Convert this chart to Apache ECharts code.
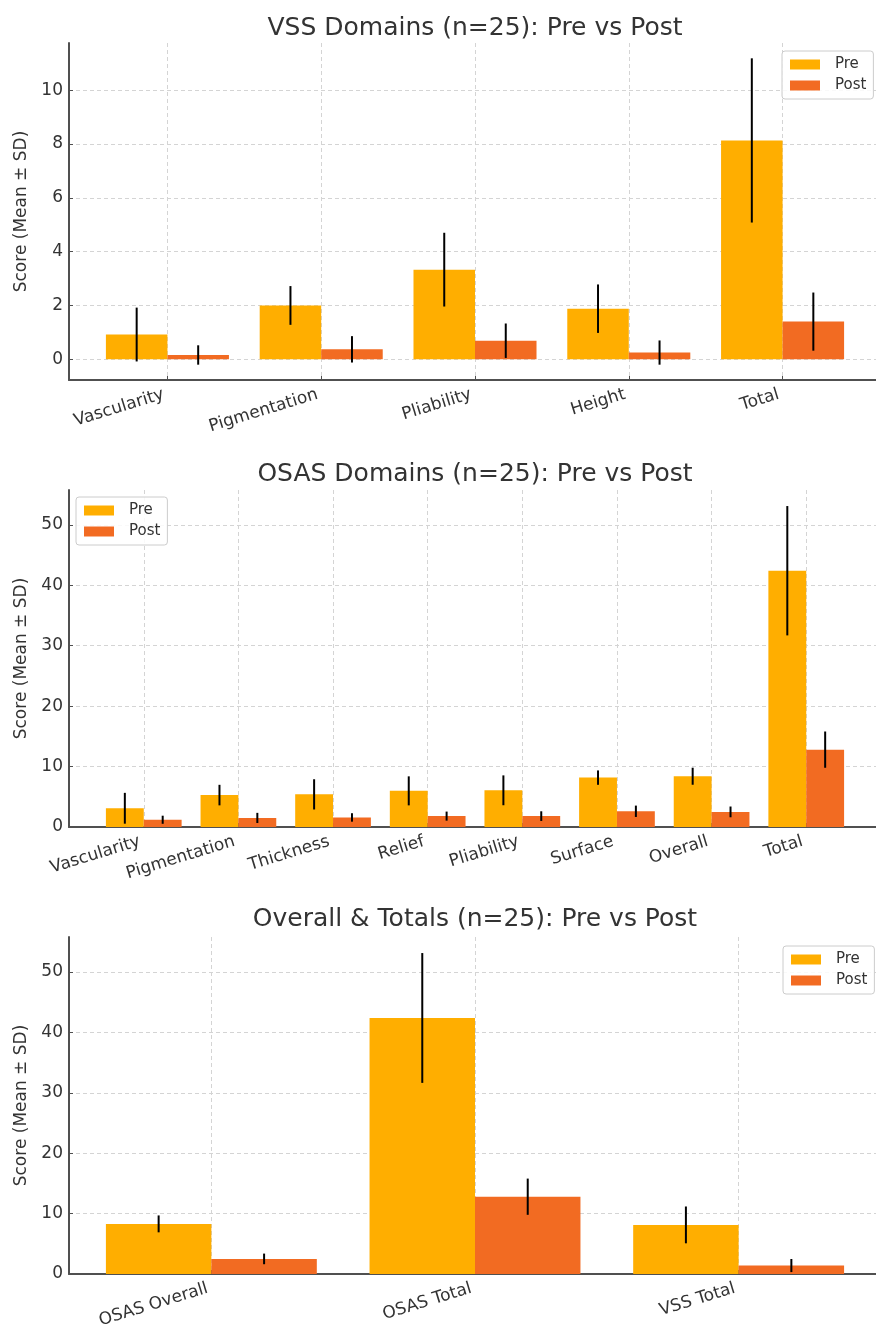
<!DOCTYPE html>
<html><head><meta charset="utf-8">
<script src="https://cdn.jsdelivr.net/npm/echarts@6/dist/echarts.min.js"></script>
<style>html,body{margin:0;padding:0;background:#fff}#c{width:876px;height:1325px}</style>
</head><body><div id="c"></div>
<script>
// ---- data ----
const vssCategories = ['Vascularity', 'Pigmentation', 'Pliability', 'Height', 'Total'];
const vssPreMean  = [0.92, 2.00, 3.33, 1.88, 8.13];
const vssPreSD    = [1.00, 0.72, 1.37, 0.90, 3.05];
const vssPostMean = [0.16, 0.37, 0.69, 0.25, 1.40];
const vssPostSD   = [0.36, 0.49, 0.64, 0.45, 1.08];

const osasCategories = ['Vascularity', 'Pigmentation', 'Thickness', 'Relief', 'Pliability', 'Surface', 'Overall', 'Total'];
const osasPreMean  = [3.10, 5.28, 5.40, 5.98, 6.07, 8.17, 8.40, 42.40];
const osasPreSD    = [2.55, 1.70, 2.50, 2.40, 2.47, 1.19, 1.41, 10.70];
const osasPostMean = [1.20, 1.50, 1.58, 1.80, 1.80, 2.60, 2.50, 12.80];
const osasPostSD   = [0.67, 0.84, 0.70, 0.75, 0.80, 0.94, 0.89, 3.00];

const totalsCategories = ['OSAS Overall', 'OSAS Total', 'VSS Total'];
const totalsPreMean  = [8.30, 42.40, 8.13];
const totalsPreSD    = [1.40, 10.75, 3.05];
const totalsPostMean = [2.50, 12.80, 1.40];
const totalsPostSD   = [0.88, 3.00, 1.08];

const vssTicks = [0, 2, 4, 6, 8, 10];
const osasTicks = [0, 10, 20, 30, 40, 50];
const totalsTicks = [0, 10, 20, 30, 40, 50];

const titles = ['VSS Domains (n=25): Pre vs Post', 'OSAS Domains (n=25): Pre vs Post', 'Overall & Totals (n=25): Pre vs Post'];
const yName = 'Score (Mean \u00b1 SD)';

// ---- style ----
const PRE_COLOR = '#FFAE00';
const POST_COLOR = '#F26B22';
const FONT = 'DejaVu Sans';
const TXT = '#333333';
const AXIS = '#505050';

const panels = [
  {cats: vssCategories, pre: vssPreMean, preSD: vssPreSD, post: vssPostMean, postSD: vssPostSD, ticks: vssTicks, top: 43, titleTop: 11, legend: {left: 782, top: 51}},
  {cats: osasCategories, pre: osasPreMean, preSD: osasPreSD, post: osasPostMean, postSD: osasPostSD, ticks: osasTicks, top: 490, titleTop: 457, legend: {left: 76, top: 497}},
  {cats: totalsCategories, pre: totalsPreMean, preSD: totalsPreSD, post: totalsPostMean, postSD: totalsPostSD, ticks: totalsTicks, top: 937, titleTop: 902, legend: {left: 783, top: 946}}
];

function extent(p) {
  // matplotlib-like autoscale: bars sticky at 0, 5% margins
  let lo = 0, hi = 0;
  for (let i = 0; i < p.cats.length; i++) {
    lo = Math.min(lo, p.pre[i] - p.preSD[i], p.post[i] - p.postSD[i]);
    hi = Math.max(hi, p.pre[i] + p.preSD[i], p.post[i] + p.postSD[i]);
  }
  const r = hi - lo;
  return [lo < 0 ? lo - 0.05 * r : 0, hi + 0.05 * r];
}

const grid = [], xAxis = [], yAxis = [], series = [], title = [], legend = [];
panels.forEach((p, gi) => {
  const n = p.cats.length;
  const xr = (n - 1) + 0.8;
  const ext = extent(p);
  grid.push({left: 69, width: 812, top: p.top, height: 337, containLabel: false, outerBoundsMode: 'none'});
  title.push({text: titles[gi], left: 470, top: p.titleTop, textAlign: 'center',
    textStyle: {fontFamily: FONT, fontSize: 25, fontWeight: 'normal', color: TXT}});
  legend.push({left: p.legend.left, top: p.legend.top, orient: 'vertical', itemWidth: 30, itemHeight: 10, itemGap: 6,
    padding: [6, 7, 6, 8], borderColor: '#cccccc', borderWidth: 1, borderRadius: 3, backgroundColor: 'rgba(255,255,255,0.85)',
    textStyle: {fontFamily: FONT, fontSize: 15, color: TXT, padding: [0, 0, 0, 10]},
    selectedMode: false,
    data: [{name: 'Pre', icon: 'rect', itemStyle: {color: PRE_COLOR}}, {name: 'Post', icon: 'rect', itemStyle: {color: POST_COLOR}}]});
  const idxs = p.cats.map((_, i) => i);
  xAxis.push({type: 'value', gridIndex: gi, min: -0.4 - 0.05 * xr, max: (n - 1) + 0.4 + 0.05 * xr,
    axisLine: {show: true, onZero: false, lineStyle: {color: AXIS, width: 2}},
    axisTick: {show: true, inside: true, customValues: idxs, length: 4, lineStyle: {color: AXIS, width: 1}},
    axisLabel: {customValues: idxs, rotate: 17, fontFamily: FONT, fontSize: 17, color: TXT, margin: 13,
      padding: [0, 4, 0, 0],
      formatter: v => p.cats[Math.round(v)]},
    splitLine: {show: true, lineStyle: {color: '#d4d4d4', width: 1, type: [4, 3]}}});
  yAxis.push({type: 'value', gridIndex: gi, min: ext[0], max: ext[1],
    name: yName, nameLocation: 'middle', nameGap: 38, nameRotate: 90,
    nameTextStyle: {fontFamily: FONT, fontSize: 17, color: TXT},
    axisLine: {show: true, onZero: false, lineStyle: {color: AXIS, width: 2}},
    axisTick: {show: true, inside: true, customValues: p.ticks, length: 4, lineStyle: {color: AXIS, width: 1}},
    axisLabel: {customValues: p.ticks, fontFamily: FONT, fontSize: 17, color: TXT, margin: 6},
    splitLine: {show: true, lineStyle: {color: '#d4d4d4', width: 1, type: [4, 3]}}});
  const mk = (name, color, means, sds, off) => ({
    type: 'custom', name, xAxisIndex: gi, yAxisIndex: gi, itemStyle: {color},
    data: means.map((m, i) => [i, m, sds[i]]),
    encode: {x: 0, y: 1},
    z: 5,
    renderItem(params, api) {
      const x = api.value(0) + off, m = api.value(1), sd = api.value(2);
      const a = api.coord([x - 0.2, m]);
      const b = api.coord([x + 0.2, 0]);
      const e0 = api.coord([x, m + sd]);
      const e1 = api.coord([x, m - sd]);
      return {type: 'group', children: [
        {type: 'rect', shape: {x: a[0], y: a[1], width: b[0] - a[0], height: b[1] - a[1]}, style: {fill: color}},
        {type: 'line', z2: 10, shape: {x1: e0[0], y1: e0[1], x2: e1[0], y2: e1[1]}, style: {stroke: '#000', lineWidth: 2}}
      ]};
    }
  });
  series.push(mk('Pre', PRE_COLOR, p.pre, p.preSD, -0.2));
  series.push(mk('Post', POST_COLOR, p.post, p.postSD, 0.2));
});

const chart = echarts.init(document.getElementById('c'), null, {renderer: 'canvas'});
chart.setOption({animation: false, backgroundColor: '#ffffff', title, legend, grid, xAxis, yAxis, series});
</script>
</body></html>
